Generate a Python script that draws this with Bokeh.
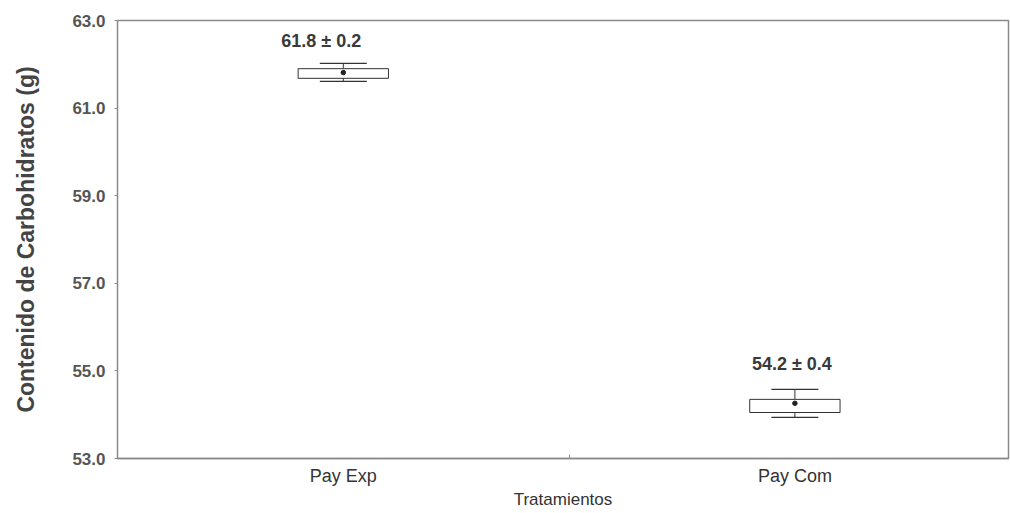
from bokeh.plotting import figure
from bokeh.models import Range1d, FixedTicker, ColumnDataSource, NumeralTickFormatter
from bokeh.core.properties import value
from bokeh.embed import file_html
from bokeh.resources import INLINE

categories = ["Pay Exp", "Pay Com"]
means = [61.81, 54.26]
q1 = [61.68, 54.05]
q3 = [61.90, 54.35]
whisk_lo = [61.61, 53.94]
whisk_hi = [62.02, 54.58]
labels = ["61.8 \u00b1 0.2", "54.2 \u00b1 0.4"]
y_ticks = [53.0, 55.0, 57.0, 59.0, 61.0, 63.0]

xc = [i + 0.5 for i in range(len(categories))]
box_half = 0.1
cap_half = 0.052

src = ColumnDataSource(dict(
    x=xc, mean=means, q1=q1, q3=q3, lo=whisk_lo, hi=whisk_hi,
    left=[x - box_half for x in xc], right=[x + box_half for x in xc],
    cl=[x - cap_half for x in xc], cr=[x + cap_half for x in xc],
    label=labels, xo=[-22, -3], yo=[-12, -15],
))

FONT = "Liberation Sans"
p = figure(width=1010, height=513, output_backend="svg", toolbar_location=None,
           x_range=Range1d(0, 1.973), y_range=Range1d(53, 63),
           min_border_left=117, min_border_top=20, min_border_right=2, min_border_bottom=55)
p.grid.visible = False
p.background_fill_color = "white"
p.border_fill_color = "white"
p.outline_line_color = "#8a8a8a"
p.outline_line_width = 1.5

# whiskers
p.segment(x0="x", y0="q3", x1="x", y1="hi", source=src, line_color="#333333", line_width=1)
p.segment(x0="x", y0="lo", x1="x", y1="q1", source=src, line_color="#333333", line_width=1)
p.segment(x0="cl", y0="hi", x1="cr", y1="hi", source=src, line_color="#333333", line_width=1.2)
p.segment(x0="cl", y0="lo", x1="cr", y1="lo", source=src, line_color="#333333", line_width=1.2)
# boxes
p.quad(left="left", right="right", bottom="q1", top="q3", source=src,
       fill_color="white", line_color="#333333", line_width=1)
# means
p.scatter(x="x", y="mean", source=src, size=4.5, color="#222222")
# labels
p.text(x="x", y="hi", text="label", source=src, x_offset="xo", y_offset="yo",
       text_align="center", text_baseline="bottom", text_font=value(FONT),
       text_font_size="18px", text_font_style="bold", text_color="#3a3a3a")

ya = p.yaxis[0]
ya.ticker = FixedTicker(ticks=y_ticks)
ya.formatter = NumeralTickFormatter(format="0.0")
ya.axis_label = "Contenido de Carbohidratos (g)"
ya.axis_label_text_font = FONT
ya.axis_label_text_font_size = "23px"
ya.axis_label_text_font_style = "bold"
ya.axis_label_text_color = "#444444"
ya.axis_label_standoff = 30
ya.major_label_text_font = FONT
ya.major_label_text_font_size = "17px"
ya.major_label_text_font_style = "bold"
ya.major_label_text_color = "#555555"
ya.major_tick_out = 3
ya.major_tick_in = 0
ya.minor_tick_out = 0
ya.minor_tick_in = 0
ya.axis_line_color = "#8a8a8a"
ya.major_tick_line_color = "#8a8a8a"
ya.major_label_standoff = 9

xa = p.xaxis[0]
xa.ticker = FixedTicker(ticks=xc, minor_ticks=[1.0])
xa.major_label_overrides = {x: c for x, c in zip(xc, categories)}
xa.axis_label = "Tratamientos"
xa.axis_label_text_font = FONT
xa.axis_label_text_font_size = "17px"
xa.axis_label_text_font_style = "normal"
xa.axis_label_text_color = "#333333"
xa.axis_label_standoff = 1
xa.major_label_text_font = FONT
xa.major_label_text_font_size = "18px"
xa.major_label_text_color = "#333333"
xa.major_tick_out = 0
xa.major_tick_in = 0
xa.minor_tick_in = 4
xa.minor_tick_out = 0
xa.minor_tick_line_color = "#8a8a8a"
xa.axis_line_color = "#8a8a8a"
xa.axis_line_width = 1.5
xa.major_label_standoff = 7

open("out.html", "w").write(file_html(p, INLINE))
